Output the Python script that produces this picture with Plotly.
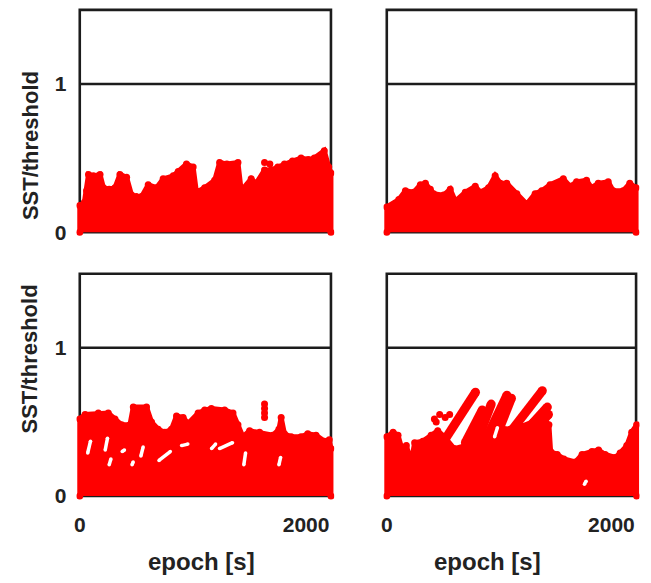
import plotly.graph_objects as go

# ---- data: upper envelope of SST/threshold over the epoch, per recording ----
tl_x = [0, 40, 60, 77, 120, 179, 209, 260, 311, 355, 414, 458, 500, 546, 605, 678,
        737, 826, 870, 943, 1002, 1031, 1104, 1192, 1236, 1300, 1398, 1427, 1515,
        1559, 1633, 1692, 1750, 1809, 1880, 1956, 2020, 2073, 2161, 2200, 2220]
tl_y = [0.18, 0.20, 0.28, 0.39, 0.38, 0.39, 0.30, 0.29, 0.30, 0.39, 0.37, 0.25, 0.24,
        0.24, 0.32, 0.30, 0.36, 0.38, 0.41, 0.46, 0.44, 0.27, 0.30, 0.35, 0.47, 0.46,
        0.47, 0.28, 0.36, 0.33, 0.42, 0.42, 0.44, 0.46, 0.48, 0.50, 0.49, 0.50, 0.55, 0.44, 0.40]
tl_px = [1633, 1680]
tl_py = [0.47, 0.46]

tr_x = [0, 107, 166, 240, 299, 344, 388, 417, 506, 565, 610, 699, 788, 832, 906, 965,
        1010, 1069, 1158, 1246, 1321, 1380, 1454, 1572, 1631, 1690, 1779, 1823, 1883,
        1972, 2016, 2105, 2164, 2220]
tr_y = [0.17, 0.22, 0.28, 0.27, 0.32, 0.33, 0.29, 0.26, 0.25, 0.29, 0.21, 0.27, 0.31,
        0.27, 0.30, 0.38, 0.33, 0.33, 0.26, 0.19, 0.26, 0.28, 0.32, 0.36, 0.31, 0.34,
        0.35, 0.30, 0.33, 0.34, 0.28, 0.28, 0.33, 0.30]
tr_px = []
tr_py = []

bl_x = [0, 47, 164, 252, 311, 370, 443, 473, 590, 634, 693, 752, 810, 855, 914, 957,
        1046, 1104, 1163, 1280, 1354, 1398, 1442, 1501, 1589, 1706, 1760, 1780, 1809,
        1868, 1956, 2015, 2088, 2161, 2205, 2220]
bl_y = [0.52, 0.55, 0.56, 0.56, 0.52, 0.48, 0.48, 0.60, 0.60, 0.50, 0.45, 0.43, 0.45,
        0.54, 0.53, 0.49, 0.56, 0.58, 0.59, 0.58, 0.56, 0.48, 0.40, 0.44, 0.43, 0.41,
        0.45, 0.53, 0.42, 0.40, 0.40, 0.42, 0.41, 0.37, 0.38, 0.32]
bl_px = [1633, 1633, 1633, 1633]
bl_py = [0.62, 0.59, 0.56, 0.53]
# stretches without samples inside the band (x0, y0, x1, y1)
bl_gx0 = [70, 225, 260, 375, 462, 540, 700, 900, 1165, 1235, 1450, 1760]
bl_gy0 = [0.29, 0.31, 0.21, 0.30, 0.21, 0.27, 0.24, 0.34, 0.32, 0.32, 0.21, 0.21]
bl_gx1 = [95, 245, 275, 395, 472, 560, 800, 955, 1200, 1350, 1465, 1775]
bl_gy1 = [0.37, 0.39, 0.25, 0.31, 0.23, 0.33, 0.30, 0.35, 0.35, 0.36, 0.29, 0.26]

br_x = [0, 56, 100, 130, 174, 218, 248, 321, 395, 454, 513, 600, 700, 800, 900, 1000,
        1100, 1200, 1300, 1400, 1444, 1459, 1518, 1577, 1680, 1739, 1827, 1886, 1945,
        2034, 2078, 2137, 2181, 2225]
br_y = [0.40, 0.43, 0.41, 0.33, 0.34, 0.23, 0.36, 0.37, 0.41, 0.44, 0.40, 0.32, 0.34,
        0.44, 0.42, 0.46, 0.45, 0.47, 0.50, 0.52, 0.48, 0.30, 0.28, 0.25, 0.23, 0.28,
        0.30, 0.31, 0.28, 0.26, 0.29, 0.34, 0.43, 0.48]
br_px = [424, 440, 471, 520, 560]
br_py = [0.52, 0.50, 0.55, 0.53, 0.55]
# drifting episodes in the last recording (start x, start y, end x, end y)
br_sx0 = [500, 700, 820, 880, 1000, 1120, 1250, 1380]
br_sy0 = [0.36, 0.36, 0.40, 0.38, 0.45, 0.45, 0.45, 0.50]
br_sx1 = [790, 850, 930, 1070, 1110, 1385, 1430, 1440]
br_sy1 = [0.70, 0.58, 0.62, 0.68, 0.66, 0.71, 0.60, 0.55]
br_gx0 = [960, 1760]
br_gy0 = [0.40, 0.08]
br_gx1 = [985, 1775]
br_gy1 = [0.46, 0.10]

threshold = 1.0
x_ticks = [0, 2000]
y_ticks = [0, 1]
x_end = 2220
y_top = 1.5

RED = "#ff0000"
FRAME = "#1c1c1c"
FONT = "Liberation Sans, Arial, sans-serif"

fig = go.Figure()

panels = [
    # (axis suffix, env x, env y, extra x, extra y, streaks, gaps, xdomain, ydomain, x ticks, y ticks)
    ("", tl_x, tl_y, tl_px, tl_py, None, None, [0.1146, 0.5121], [0.5892, 0.988], False, True),
    ("2", tr_x, tr_y, tr_px, tr_py, None, None, [0.5877, 0.9822], [0.5892, 0.988], False, False),
    ("3", bl_x, bl_y, bl_px, bl_py, None, (bl_gx0, bl_gy0, bl_gx1, bl_gy1),
     [0.1146, 0.5121], [0.1312, 0.530], True, True),
    ("4", br_x, br_y, br_px, br_py, (br_sx0, br_sy0, br_sx1, br_sy1),
     (br_gx0, br_gy0, br_gx1, br_gy1), [0.5877, 0.9822], [0.1312, 0.530], True, False),
]


def segments(xa, ya, seg, color, width):
    # thick segments with round ends (markers on both end points)
    for a, b, c, d in zip(*seg):
        fig.add_trace(go.Scatter(x=[a, c], y=[b, d], xaxis=xa, yaxis=ya, mode="lines+markers",
                                 line=dict(color=color, width=width),
                                 marker=dict(color=color, size=width),
                                 showlegend=False, hoverinfo="skip"))


layout = {}
for suf, ex, ey, px, py, streaks, gaps, xd, yd, showx, showy in panels:
    xa, ya = "x" + suf, "y" + suf
    # frame and threshold line sit under the data
    fig.add_shape(type="rect", xref=xa, yref=ya, x0=0, x1=x_end, y0=0, y1=y_top,
                  line=dict(color=FRAME, width=2.6), layer="below")
    fig.add_shape(type="line", xref=xa, yref=ya, x0=0, x1=x_end, y0=threshold, y1=threshold,
                  line=dict(color=FRAME, width=2.6), layer="below")
    # filled envelope of the dense scatter
    poly_x = [ex[0]] + ex + [ex[-1]]
    poly_y = [0] + ey + [0]
    fig.add_trace(go.Scatter(x=poly_x, y=poly_y, xaxis=xa, yaxis=ya, mode="lines+markers",
                             fill="toself", fillcolor=RED,
                             line=dict(color=RED, width=5),
                             marker=dict(color=RED, size=7),
                             showlegend=False, hoverinfo="skip"))
    if streaks is not None:
        segments(xa, ya, streaks, RED, 9)
    if gaps is not None:
        segments(xa, ya, gaps, "white", 3.5)
    if px:
        fig.add_trace(go.Scatter(x=px, y=py, xaxis=xa, yaxis=ya, mode="markers",
                                 marker=dict(color=RED, size=7),
                                 showlegend=False, hoverinfo="skip"))
    axis_font = dict(family=FONT, size=21, color="#222", weight="bold")
    layout["xaxis" + suf] = dict(domain=xd, range=[-30, 2250], showgrid=False, zeroline=False,
                                 showline=False, tickvals=x_ticks, showticklabels=showx,
                                 ticks="", tickfont=axis_font, ticklabelstandoff=10,
                                 anchor=ya)
    layout["yaxis" + suf] = dict(domain=yd, range=[-0.03, 1.52], showgrid=False, zeroline=False,
                                 showline=False, tickvals=y_ticks, showticklabels=showy,
                                 ticks="", tickfont=axis_font, ticklabelstandoff=9,
                                 anchor=xa)

fig.update_layout(**layout)

title_font = dict(family=FONT, size=22, color="#222", weight="bold")
for yy in [0.7479, 0.3774]:
    fig.add_annotation(text="SST/threshold", xref="paper", yref="paper", x=0.043, y=yy,
                       textangle=-90, showarrow=False, font=title_font,
                       xanchor="center", yanchor="middle")
for xx in [0.3072, 0.748]:
    fig.add_annotation(text="epoch [s]", xref="paper", yref="paper", x=xx, y=0.0257,
                       showarrow=False, font=dict(family=FONT, size=24, color="#222", weight="bold"),
                       xanchor="center", yanchor="middle")

fig.update_layout(width=651, height=583, margin=dict(l=0, r=0, t=0, b=0),
                  paper_bgcolor="white", plot_bgcolor="white")

fig.write_html("out.html")
